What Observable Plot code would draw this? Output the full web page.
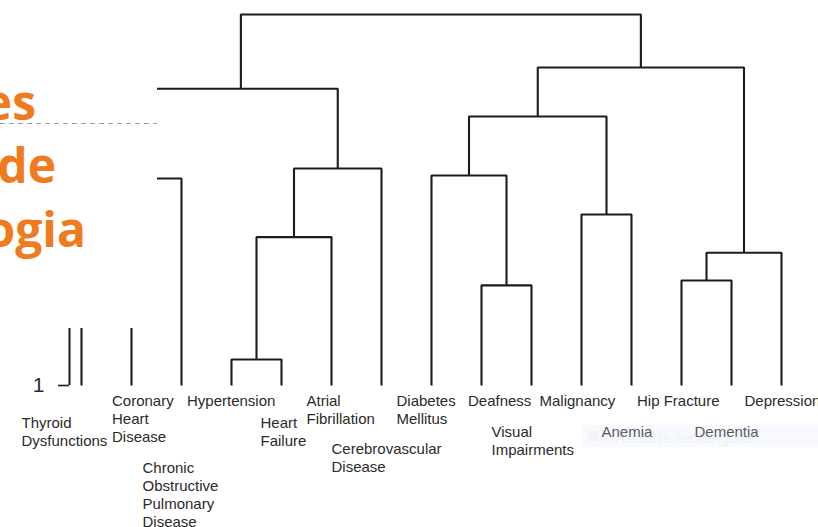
<!DOCTYPE html>
<html>
<head>
<meta charset="utf-8">
<script src="https://cdn.jsdelivr.net/npm/d3@7"></script>
<script src="https://cdn.jsdelivr.net/npm/@observablehq/plot@0.6"></script>
<style>
  html, body { margin: 0; padding: 0; background: #fff; }
  #wrap { position: relative; width: 818px; height: 527px; overflow: hidden; }
  #panel { position: absolute; left: 0; top: 0; }
  #snip { position: absolute; left: 583px; top: 425px; width: 235px; height: 22px;
          background: rgba(222,233,250,0.25); pointer-events: none;
          font: 16px "Liberation Sans", Arial, sans-serif; color: rgba(200,212,230,0.22); }
  #snip .dot { position: absolute; left: 5px; top: 6px; width: 10px; height: 10px; border-radius: 5px; background: rgba(245,225,205,0.25); }
  #snip .t { position: absolute; left: 32px; top: 4px; white-space: nowrap; }
</style>
</head>
<body>
<div id="wrap">
  <div id="chart"></div>
  <svg id="panel" width="157" height="328">
    <rect width="157" height="328" fill="#fff"></rect>
    <line x1="0" x2="157" y1="123.5" y2="123.5" stroke="#a0a0a0" stroke-width="1" stroke-dasharray="5,4"></line>
    <g font-family="Open Sans, sans-serif" font-weight="700" font-size="48" fill="#F07A1E" text-anchor="end">
      <text x="36" y="120">es</text>
      <text x="56" y="183">de</text>
      <text x="86" y="247">ogia</text>
    </g>
  </svg>
  <div id="snip"><span class="dot"></span><span class="t">Recorte rectangular</span></div>
</div>
<script>
// ---- data ----
const leaves = [
  "Thyroid Dysfunctions", "Coronary Heart Disease", "Chronic Obstructive Pulmonary Disease",
  "Hypertension", "Heart Failure", "Atrial Fibrillation", "Cerebrovascular Disease",
  "Diabetes Mellitus", "Deafness", "Visual Impairments", "Malignancy", "Anemia",
  "Hip Fracture", "Dementia", "Depression"
];
const leafLabels = [
  "Thyroid\nDysfunctions", "Coronary\nHeart\nDisease", "Chronic\nObstructive\nPulmonary\nDisease",
  "Hypertension", "Heart\nFailure", "Atrial\nFibrillation", "Cerebrovascular\nDisease",
  "Diabetes\nMellitus", "Deafness", "Visual\nImpairments", "Malignancy", "Anemia",
  "Hip Fracture", "Dementia", "Depression"
];
// merges: [childA, childB, height]; ids 0-14 leaves, 15+ merges in order
const merges = [
  [3, 4, 1.07],    // 15 Hypertension + Heart Failure
  [8, 9, 1.27],    // 16 Deafness + Visual Impairments
  [12, 13, 1.283], // 17 Hip Fracture + Dementia
  [0, 1, 1.34],    // 18 Thyroid + Coronary
  [17, 14, 1.358], // 19 + Depression
  [15, 5, 1.40],   // 20 + Atrial Fibrillation
  [10, 11, 1.461], // 21 Malignancy + Anemia
  [18, 2, 1.558],  // 22 + COPD
  [7, 16, 1.566],  // 23 Diabetes + (Deafness, Visual)
  [20, 6, 1.585],  // 24 + Cerebrovascular
  [23, 21, 1.725], // 25
  [22, 24, 1.80],  // 26
  [25, 19, 1.857], // 27
  [26, 27, 2.00]   // 28 root
];
const yTicks = [1];

// ---- layout (label offsets in px) ----
const labelLayout = [
  {dx: -60, dy: 30}, {dx: -19.5, dy: 7.5}, {dx: -39, dy: 75},
  {dx: -44.5, dy: 7.5}, {dx: -21, dy: 29.5}, {dx: -25, dy: 7.5}, {dx: -50, dy: 56},
  {dx: -35, dy: 7.5}, {dx: -13.5, dy: 7.5}, {dx: -40, dy: 38.5}, {dx: -42, dy: 7.5},
  {dx: -30, dy: 38.5}, {dx: -44.5, dy: 7.5}, {dx: -37, dy: 38.5}, {dx: -37, dy: 7.5}
];

// ---- build tree geometry ----
const nodeX = leaves.map((_, i) => i);
const nodeH = leaves.map(() => 1);
const segs = [];
merges.forEach(([a, b, h], k) => {
  const id = leaves.length + k;
  nodeX[id] = (nodeX[a] + nodeX[b]) / 2;
  nodeH[id] = h;
  segs.push({z: id, x: nodeX[a], y: nodeH[a]});
  segs.push({z: id, x: nodeX[a], y: h});
  segs.push({z: id, x: nodeX[b], y: h});
  segs.push({z: id, x: nodeX[b], y: nodeH[b]});
});
const xDomain = [-0.24, leaves.length - 1];
const leafData = leaves.map((name, i) => ({name, i, label: leafLabels[i]}));

const ink = "#1c1c1c";
const plot = Plot.plot({
  width: 818,
  height: 527,
  marginLeft: 69,
  marginRight: 37,
  marginTop: 14,
  marginBottom: 142,
  style: {fontFamily: "'Liberation Sans', Arial, Helvetica, sans-serif", background: "white"},
  x: {domain: xDomain, axis: null},
  y: {domain: [1, 2]},
  marks: [
    Plot.axisY({ticks: yTicks, tickFormat: (d) => String(d), tickSize: 11, tickPadding: 14, fontSize: 21, label: null, stroke: ink, strokeWidth: 1.6, color: "#1f2d3d"}),
    Plot.ruleX([xDomain[0]], {y1: 1, y2: 2, stroke: ink, strokeWidth: 2}),
    Plot.line(segs, {x: "x", y: "y", z: "z", stroke: ink, strokeWidth: 2.1, strokeLinejoin: "miter", strokeLinecap: "butt"}),
    ...leafData.map((d, i) => Plot.text([d], {
      x: "i", y: () => 1, text: "label",
      textAnchor: "start", lineAnchor: "top", lineHeight: 1.2,
      dx: labelLayout[i].dx, dy: labelLayout[i].dy,
      fontSize: 15, fill: "#2a2a2a"
    }))
  ]
});
document.getElementById("chart").appendChild(plot);
</script>
</body>
</html>
